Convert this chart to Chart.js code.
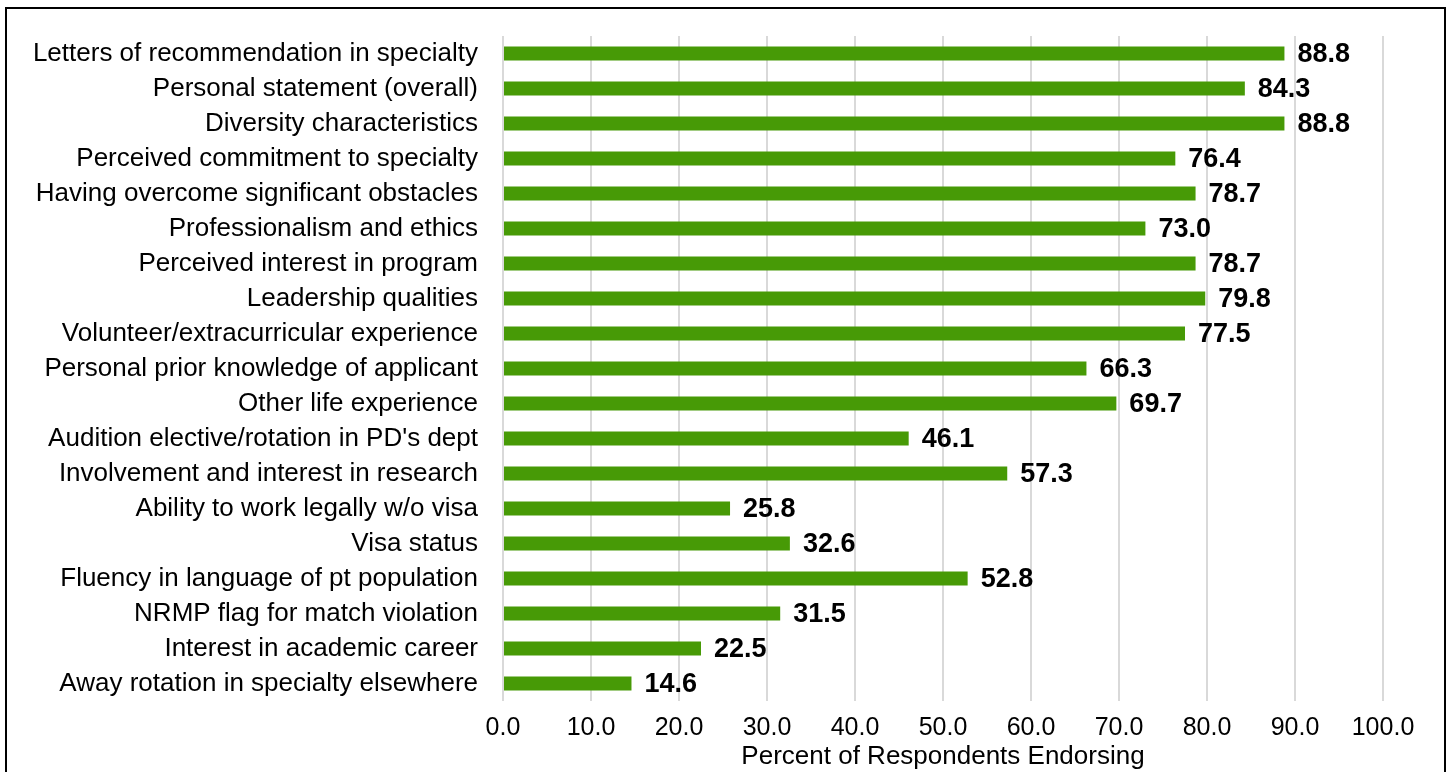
<!DOCTYPE html>
<html>
<head>
<meta charset="utf-8">
<script src="https://cdn.jsdelivr.net/npm/chart.js@4/dist/chart.umd.min.js"></script>
<style>
  html, body { margin: 0; padding: 0; background: #fff; }
  #wrap { position: relative; width: 1449px; height: 772px; overflow: hidden; }
  #frame { position: absolute; left: 5px; top: 7px; width: 1437px; height: 800px; border: 2px solid #000; }
  canvas { position: absolute; left: 0; top: 0; }
</style>
</head>
<body>
<div id="wrap">
  <div id="frame"></div>
  <canvas id="chart" width="1449" height="772"></canvas>
</div>
<script>
const factors = [
  'Letters of recommendation in specialty',
  'Personal statement (overall)',
  'Diversity characteristics',
  'Perceived commitment to specialty',
  'Having overcome significant obstacles',
  'Professionalism and ethics',
  'Perceived interest in program',
  'Leadership qualities',
  'Volunteer/extracurricular experience',
  'Personal prior knowledge of applicant',
  'Other life experience',
  "Audition elective/rotation in PD's dept",
  'Involvement and interest in research',
  'Ability to work legally w/o visa',
  'Visa status',
  'Fluency in language of pt population',
  'NRMP flag for match violation',
  'Interest in academic career',
  'Away rotation in specialty elsewhere'
];

const percentEndorsing = [88.8, 84.3, 88.8, 76.4, 78.7, 73.0, 78.7, 79.8, 77.5, 66.3,
  69.7, 46.1, 57.3, 25.8, 32.6, 52.8, 31.5, 22.5, 14.6];

const xTicks = [0, 10, 20, 30, 40, 50, 60, 70, 80, 90, 100];

const axisTitle = 'Percent of Respondents Endorsing';

const family = '"Liberation Sans", Arial, sans-serif';

// value labels at the end of each bar
const barLabels = {
  id: 'barLabels',
  afterDatasetsDraw(chart) {
    const ctx = chart.ctx;
    const meta = chart.getDatasetMeta(0);
    ctx.save();
    ctx.font = 'bold 27px ' + family;
    ctx.fillStyle = '#000';
    ctx.textAlign = 'left';
    ctx.textBaseline = 'middle';
    meta.data.forEach((bar, i) => {
      ctx.fillText(percentEndorsing[i].toFixed(1), bar.x + 13, bar.y + 1);
    });
    ctx.restore();
  }
};

new Chart(document.getElementById('chart'), {
  type: 'bar',
  data: {
    labels: factors,
    datasets: [{
      data: percentEndorsing,
      backgroundColor: '#479a06',
      barPercentage: 0.4,
      categoryPercentage: 1
    }]
  },
  options: {
    indexAxis: 'y',
    responsive: false,
    animation: false,
    layout: { padding: { top: 36, right: 66, left: 0, bottom: 0 } },
    plugins: { legend: { display: false }, tooltip: { enabled: false } },
    scales: {
      x: {
        min: 0,
        max: 100,
        afterBuildTicks: s => { s.ticks = xTicks.map(v => ({ value: v })); },
        afterFit: s => { s.height = 71; s.paddingLeft = 0; s.paddingRight = 0; },
        grid: { color: '#d9d9d9', lineWidth: 2, drawTicks: false },
        border: { display: false },
        ticks: {
          color: '#000',
          font: { family: family, size: 25 },
          padding: 12,
          callback: v => v.toFixed(1)
        },
        title: {
          display: true,
          text: axisTitle,
          color: '#000',
          font: { family: family, size: 26 },
          padding: { top: -4, bottom: 0 }
        }
      },
      y: {
        afterFit: s => { s.width = 503; s.paddingTop = 0; s.paddingBottom = 0; },
        grid: { display: false },
        border: { display: false },
        ticks: { color: '#000', font: { family: family, size: 26 }, padding: 17, autoSkip: false }
      }
    }
  },
  plugins: [barLabels]
});
</script>
</body>
</html>
